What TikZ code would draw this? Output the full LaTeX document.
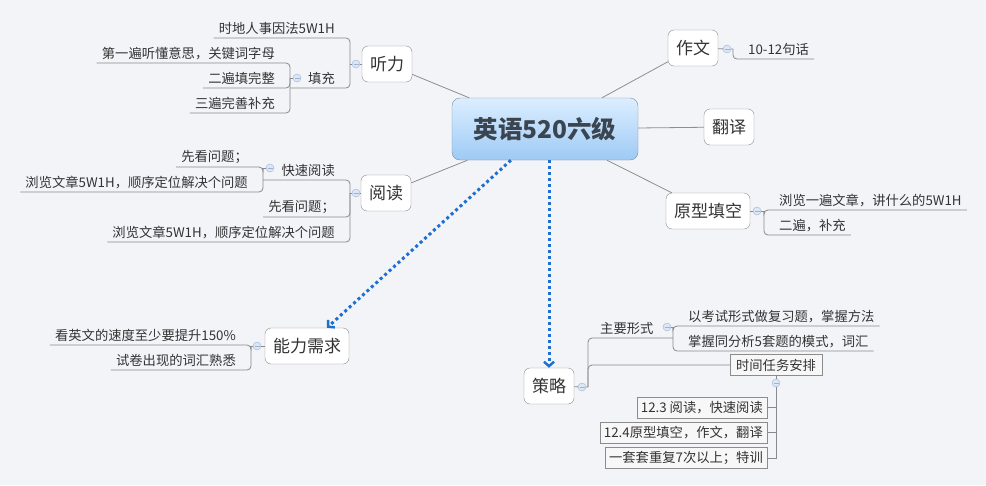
\documentclass[tikz,border=0pt]{standalone}
\usepackage{fontspec}
\setmainfont{Noto Sans CJK SC}
\usetikzlibrary{arrows.meta}

\definecolor{bgcol}{HTML}{F3F4F8}
\definecolor{txtcol}{HTML}{333333}
\definecolor{boxcol}{HTML}{8C8C8C}
\definecolor{boxfill}{HTML}{F7F7F7}
\definecolor{linkcol}{HTML}{8E8E8E}
\definecolor{ulcol}{HTML}{8A8A8A}
\definecolor{foldfill}{HTML}{DCE6F4}
\definecolor{foldline}{HTML}{9DB3D3}
\definecolor{cenTop}{HTML}{DCEEFF}
\definecolor{cenBot}{HTML}{9ECAF5}
\definecolor{cenBorder}{HTML}{7A8DA6}
\definecolor{centxt}{HTML}{3B4550}
\definecolor{dotblue}{HTML}{1F6FD0}

\newcommand{\leaffont}{\fontsize{13.3pt}{16pt}\selectfont}
\newcommand{\topicfont}{\fontsize{17pt}{20pt}\selectfont}
\newcommand{\centerfont}{\fontsize{24.5pt}{28pt}\selectfont\bfseries}

\begin{document}
\begin{tikzpicture}[x=1pt, y=-1pt, every node/.style={text=txtcol},
    central/.style={draw=cenBorder, top color=cenTop, bottom color=cenBot, rounded corners=8pt,
      minimum width=186pt, minimum height=62pt, font=\centerfont, text=centxt},
    topic/.style={draw=boxcol, fill=white, rounded corners=6pt, font=\topicfont,
      minimum height=36pt, inner xsep=8pt},
    leaf/.style={font=\leaffont, inner xsep=5pt, inner ysep=3pt},
    tbox/.style={draw=boxcol, fill=boxfill, font=\leaffont, inner xsep=4pt, inner ysep=1pt, minimum height=21pt},
    fold/.style={circle, draw=foldline, fill=foldfill, minimum size=8pt, inner sep=0pt,
      path picture={\draw[foldline] ([xshift=-2.5pt]path picture bounding box.center) -- ([xshift=2.5pt]path picture bounding box.center);}},
    link/.style={draw=linkcol, line width=0.8pt},
    uline/.style={draw=ulcol, line width=0.8pt, rounded corners=4pt},
    dotarrow/.style={draw=dotblue, line width=3pt, dash pattern=on 3pt off 3pt,
      -{Straight Barb[length=4.5pt,width=10pt,line width=2.4pt]}}]
    \fill[bgcol] (0,0) rectangle (986,485);
    \useasboundingbox (0,0) rectangle (986,485);

    \node[central] (cen) at (545,129) {英语520六级};
    \node[topic] (ting) at (387,64) {听力};
    \node[topic] (yue) at (386,193) {阅读};
    \node[topic] (zuo) at (693,48) {作文};
    \node[topic] (fan) at (729,127) {翻译};
    \node[topic] (yuan) at (708,211) {原型填空};
    \node[topic] (neng) at (307,346) {能力需求};
    \node[topic] (ce) at (549,386) {策略};

    \foreach \t in {ting,yue,zuo,fan,yuan}
      \draw[link] (cen) -- (\t);
    \draw[dotarrow] (cen) -- (neng);
    \draw[dotarrow] (ce.north |- cen.south) -- (ce.north);

    % listening
    \node[fold] (fting) at (356,64) {};
    \coordinate (jting) at (350,64);
    \draw[uline] (ting) -- (fting) -- (jting);
    \node[leaf, anchor=south east] (t1) at (340,38) {时地人事因法5W1H};
    \node[leaf, anchor=south east] (t2) at (340,88) {填充};
    \draw[uline] (t1.south west) -| (jting);
    \node[fold] (ft2) at (297,78) {};
    \coordinate (jt2) at (290,78);
    \draw[uline] (ft2) -- (jt2);
    \draw[uline] (jt2 |- t2.south) -| (jting);
    \node[leaf, anchor=south east] (t21) at (280,63) {第一遍听懂意思，关键词字母};
    \node[leaf, anchor=south east] (t22) at (280,88) {二遍填完整};
    \node[leaf, anchor=south east] (t23) at (280,113) {三遍完善补充};
    \foreach \n in {t21,t22,t23}
      \draw[uline] (\n.south west) -| (jt2);

    % reading
    \node[fold] (fyue) at (356,193) {};
    \coordinate (jyue) at (350,193);
    \draw[uline] (yue) -- (fyue) -- (jyue);
    \node[leaf, anchor=south east] (r1) at (340,180) {快速阅读};
    \node[leaf, anchor=south east] (r2) at (340,217) {先看问题；};
    \node[leaf, anchor=south east] (r3) at (340,242) {浏览文章5W1H，顺序定位解决个问题};
    \node[fold] (fr1) at (270,168) {};
    \coordinate (jr1) at (263,168);
    \draw[uline] (fr1) -- (jr1);
    \draw[uline] (jr1 |- r1.south) -| (jyue);
    \foreach \n in {r2,r3}
      \draw[uline] (\n.south west) -| (jyue);
    \node[leaf, anchor=south east] (r11) at (253,167) {先看问题；};
    \node[leaf, anchor=south east] (r12) at (253,192) {浏览文章5W1H，顺序定位解决个问题};
    \foreach \n in {r11,r12}
      \draw[uline] (\n.south west) -| (jr1);

    % writing
    \node[fold] (fzuo) at (727,49) {};
    \coordinate (jzuo) at (733,49);
    \draw[uline] (zuo) -- (fzuo) -- (jzuo);
    \node[leaf, anchor=south west] (z1) at (743,59) {10-12句话};
    \draw[uline] (jzuo) |- (z1.south east);

    % cloze
    \node[fold] (fyuan) at (757,211) {};
    \coordinate (jyuan) at (764,211);
    \draw[uline] (yuan) -- (fyuan) -- (jyuan);
    \node[leaf, anchor=south west] (y1) at (774,210) {浏览一遍文章，讲什么的5W1H};
    \node[leaf, anchor=south west] (y2) at (774,235) {二遍，补充};
    \foreach \n in {y1,y2}
      \draw[uline] (jyuan) |- (\n.south east);

    % ability
    \node[fold] (fneng) at (257,346) {};
    \coordinate (jneng) at (251,346);
    \draw[uline] (neng) -- (fneng) -- (jneng);
    \node[leaf, anchor=south east] (n1) at (241,345) {看英文的速度至少要提升150\%};
    \node[leaf, anchor=south east] (n2) at (241,370) {试卷出现的词汇熟悉};
    \foreach \n in {n1,n2}
      \draw[uline] (\n.south west) -| (jneng);

    % strategy
    \node[fold] (fce) at (582,387) {};
    \coordinate (jce) at (588,387);
    \draw[uline] (ce) -- (fce) -- (jce);
    \node[leaf, anchor=south west] (s1) at (595,338) {主要形式};
    \node[fold] (fs1) at (667,327) {};
    \coordinate (js1) at (673,327);
    \draw[uline] (fs1) -- (js1);
    \draw[uline] (jce) |- (js1 |- s1.south);
    \node[leaf, anchor=south west] (s11) at (683,326) {以考试形式做复习题，掌握方法};
    \node[leaf, anchor=south west] (s12) at (683,351) {掌握同分析5套题的模式，词汇};
    \foreach \n in {s11,s12}
      \draw[uline] (js1) |- (\n.south east);
    \node[tbox, minimum width=92pt] (s2) at (776,365) {时间任务安排};
    \draw[uline] (jce) |- (s2.west);
    \node[fold] (fs2) at (776,383) {};
    \draw[uline] (s2) -- (fs2);
    \node[tbox, anchor=east] (s21) at (767,407.5) {12.3 阅读，快速阅读};
    \node[tbox, anchor=east] (s22) at (767,432.5) {12.4原型填空，作文，翻译};
    \node[tbox, anchor=east] (s23) at (767,458) {一套套重复7次以上；特训};
    \foreach \n in {s21,s22,s23}
      \draw[uline, sharp corners] (fs2) |- (\n.east);
\end{tikzpicture}
\end{document}
